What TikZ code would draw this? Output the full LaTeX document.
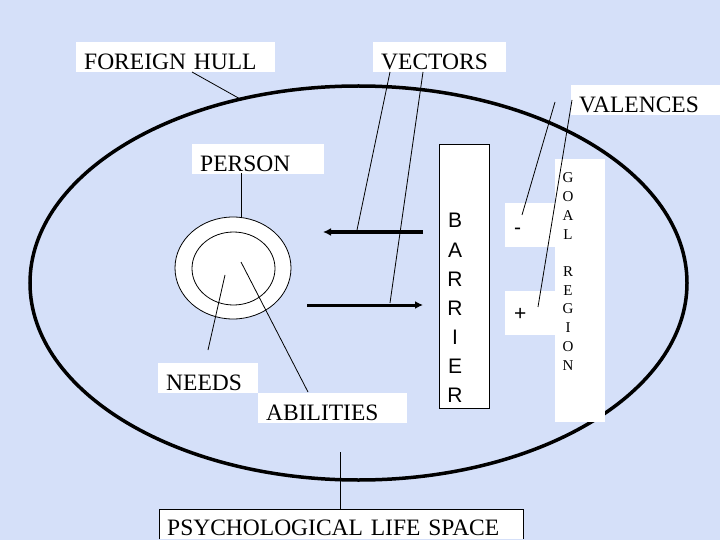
\documentclass[tikz,border=0pt]{standalone}
\usepackage{fontspec}
\setmainfont{Liberation Serif}
\newfontfamily\arialf{Liberation Sans}
\usetikzlibrary{arrows.meta}
\definecolor{bgblue}{RGB}{213,224,249}
\begin{document}
\begin{tikzpicture}[x=1pt,y=-1pt,
  lbl/.style={fill=white, inner xsep=8pt, inner ysep=0pt, align=left,
    text height=27pt, text depth=3pt, minimum height=30pt, anchor=north west,
    font=\fontsize{23.5}{28}\selectfont},
  thin line/.style={line width=0.8pt},
  vec/.style={line width=3pt, -{Latex[length=8pt,width=8pt]}},
  blank/.style={fill=white, draw=none, inner sep=0pt, anchor=north west},
  sans/.style={font=\arialf\fontsize{21}{25}\selectfont, inner sep=0pt},
  goal/.style={font=\fontsize{15}{18}\selectfont, inner sep=0pt}]
\useasboundingbox (0,0) rectangle (720,540);
\fill[bgblue] (0,0) rectangle (720,540);

% foreign hull
\draw[line width=3.5pt] (358.5,283) ellipse [x radius=328.5, y radius=197];

% person
\draw[thin line, fill=white] (233,268) ellipse [x radius=58, y radius=51];
\draw[thin line, fill=white] (233.5,268.5) ellipse [x radius=41.5, y radius=36.5];

% vectors
\coordinate (vlS) at (423,232);
\coordinate (vlE) at (323,232);
\coordinate (vrS) at (307,305);
\coordinate (vrE) at (423,305);
\draw[vec] (vlS) -- (vlE);
\draw[vec] (vrS) -- (vrE);

% labels
\node[lbl, text width=183pt] (fh) at (76,42) {FOREIGN HULL};
\node[lbl, text width=117pt] (vc) at (373,42) {VECTORS};
\node[lbl, text width=133pt] (va) at (571,85) {VALENCES};
\node[lbl, text width=116pt] (ps) at (192,144) {PERSON};
\node[lbl, text width=84pt] (nd) at (158,363) {NEEDS};
\node[lbl, text width=133pt] (ab) at (258,393) {ABILITIES};
\node[lbl, text width=348pt, text height=26pt, text depth=3pt] (pls) at (159,509) {PSYCHOLOGICAL LIFE SPACE};
\draw[thin line] (pls.south west) -- (pls.north west) -- (pls.north east) -- (pls.south east);

% barrier
\node[draw, thin line, fill=white, minimum width=50pt, minimum height=264pt, inner sep=0pt, anchor=north west] (bar) at (439,144) {};
\foreach \l [count=\i] in {B,A,R,R,I,E,R}
  \node[sans, anchor=base] (bar\i) at (455,{228+29*(\i-1)}) {\l};

% valence signs
\node[blank, minimum width=50pt, minimum height=44pt] (minusbox) at (505,203) {};
\node[blank, minimum width=50pt, minimum height=44pt] (plusbox) at (505,291) {};
\node[sans, anchor=base west] (minus) at (514,234) {-};
\node[sans, anchor=base west] (plus) at (514,320) {+};

% goal region
\node[blank, minimum width=50pt, minimum height=263pt] (goalbox) at (555,159) {};
\foreach \l [count=\i] in {G,O,A,L,{},R,E,G,I,O,N}
  \node[goal, anchor=base] (g\i) at (568,{183+18.7*(\i-1)}) {\l};

% pointer lines
\coordinate (fhS) at (192,72);
\coordinate (fhE) at (242,100);
\coordinate (vc1S) at (390,72);
\coordinate (vc1E) at (357,230);
\coordinate (vc2S) at (423,72);
\coordinate (vc2E) at (390,303);
\coordinate (va1S) at (555,102);
\coordinate (va1E) at (522,215);
\coordinate (va2S) at (572,100);
\coordinate (va2E) at (538,307);
\coordinate (psS) at (241,173);
\coordinate (psE) at (241,218);
\coordinate (ndS) at (208,350);
\coordinate (ndE) at (225,275);
\coordinate (abS) at (308,392);
\coordinate (abE) at (241,262);
\coordinate (plsE) at (340,452);
\draw[thin line] (fhS) -- (fhE);
\draw[thin line] (vc1S) -- (vc1E);
\draw[thin line] (vc2S) -- (vc2E);
\draw[thin line] (va1S) -- (va1E);
\draw[thin line] (va2S) -- (va2E);
\draw[thin line] (psS) -- (psE);
\draw[thin line] (ndS) -- (ndE);
\draw[thin line] (abS) -- (abE);
\draw[thin line] (pls.north -| plsE) -- (plsE);
\end{tikzpicture}
\end{document}
